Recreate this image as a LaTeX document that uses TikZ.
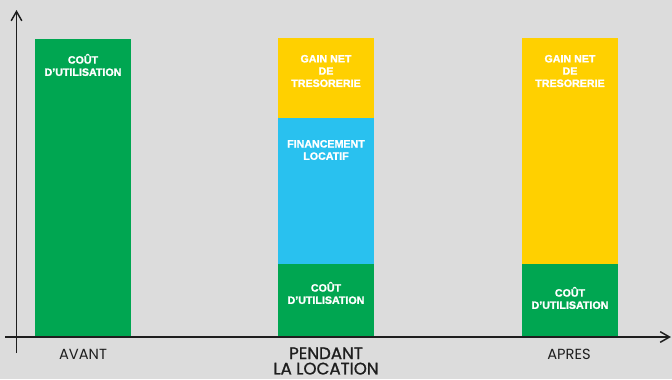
\documentclass[tikz,border=0pt]{standalone}
\usepackage{fontspec}
\setmainfont{Liberation Sans}[BoldFeatures={FakeBold=1.4}]
\newfontfamily\axisfont{Poppins}
\newfontfamily\axisboldfont[FakeBold=1.2]{Poppins}
\usetikzlibrary{positioning,arrows.meta}
\definecolor{bggray}{HTML}{DCDCDC}
\definecolor{bargreen}{HTML}{00A651}
\definecolor{baryellow}{HTML}{FFD000}
\definecolor{barblue}{HTML}{29C1EF}
\definecolor{axisgray}{HTML}{1E1E1E}

\begin{document}
\begin{tikzpicture}[x=0.75pt,y=-0.75pt,node distance=0pt,
    bar/.style={inner sep=0pt,outer sep=0pt,minimum width=72pt,anchor=south},
    barlbl/.style={text=white,font=\bfseries\fontsize{8}{9.2}\selectfont,align=center,inner sep=0pt},
    catlbl/.style={text=axisgray,font=\axisfont\fontsize{11}{11.25}\selectfont,align=center,inner sep=0pt},
    axis/.style={draw=axisgray,line width=1.1pt,-{Straight Barb[length=7pt,width=8pt]}}]
  \fill[bggray] (0,0) rectangle (672,379);
  \useasboundingbox (0,0) rectangle (672,379);

  % bars
  \node[bar,fill=bargreen,minimum height=223.5pt]  (avant)  at (83,337)  {};
  \node[bar,fill=bargreen,minimum height=54.75pt]  (pcout)  at (326,337) {};
  \node[bar,fill=barblue,minimum height=109.5pt]   (pfin)   [above=of pcout] {};
  \node[bar,fill=baryellow,minimum height=60pt]    (pgain)  [above=of pfin]  {};
  \node[bar,fill=bargreen,minimum height=54.75pt]  (acout)  at (570,337) {};
  \node[bar,fill=baryellow,minimum height=169.5pt] (again)  [above=of acout] {};

  % labels in the bars
  \node[barlbl] (lavant) at (83,65)   {COÛT\\D’UTILISATION};
  \node[barlbl] (lpgain) at (326,71)  {GAIN NET\\DE\\TRESORERIE};
  \node[barlbl] (lpfin)  at (326,150) {FINANCEMENT\\LOCATIF};
  \node[barlbl] (lpcout) at (326,293) {COÛT\\D’UTILISATION};
  \node[barlbl] (lagain) at (570,71)  {GAIN NET\\DE\\TRESORERIE};
  \node[barlbl] (lacout) at (570,298) {COÛT\\D’UTILISATION};

  % axes
  \coordinate (ybot)   at (16.5,353);
  \coordinate (ytop)   at (16.5,10);
  \coordinate (xleft)  at (5,337);
  \coordinate (xright) at (671,337);
  \draw[axis] (ybot) -- (ytop);
  \draw[axis] (xleft) -- (xright);

  % categories
  \node[catlbl] (cavant)   at (83,354)  {AVANT};
  \node[catlbl,font=\axisboldfont\fontsize{12.5}{11.5}\selectfont]
                (cpendant) at (326,361) {PENDANT\\LA LOCATION};
  \node[catlbl] (capres)   at (569,354) {APRES};
\end{tikzpicture}
\end{document}
